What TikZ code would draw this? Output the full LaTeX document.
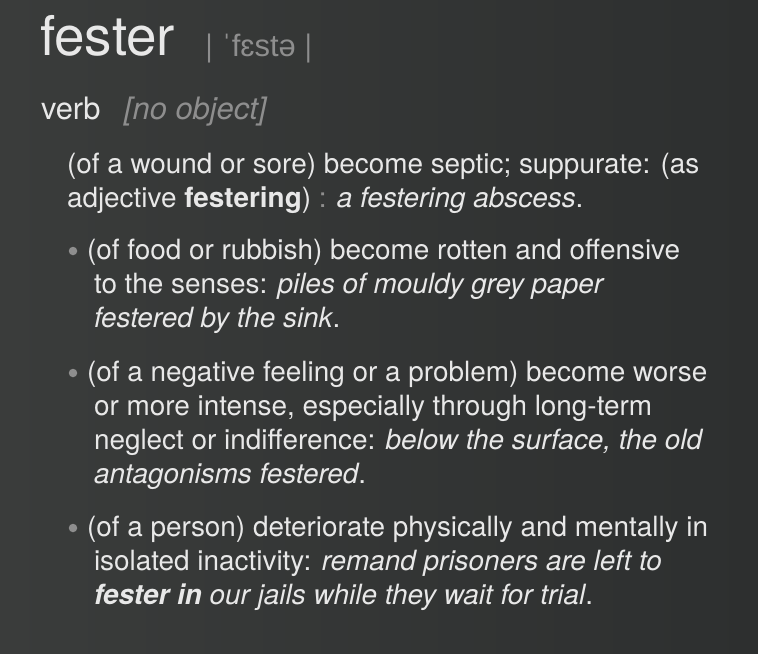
\documentclass[tikz,border=0pt]{standalone}
\usepackage{fontspec}
\setmainfont{TeX Gyre Heros}
\newfontfamily\ipafont{Liberation Sans}
\definecolor{txt}{HTML}{E8E8E8}
\definecolor{dim}{HTML}{8E8E8E}
\definecolor{bgA}{HTML}{3A3C3B}
\definecolor{bgB}{HTML}{2D2F2F}
\begin{document}
\begin{tikzpicture}[x=1bp,y=-1bp,
  ln/.style={anchor=base west,inner sep=0pt,outer sep=0pt,text=txt,font=\fontsize{28}{32}\selectfont},
  dot/.style={circle,fill=dim,inner sep=0pt,minimum size=8.5bp}]
\shade[left color=bgA,right color=bgB] (0,0) rectangle (758,654);
\useasboundingbox (0,0) rectangle (758,654);
% headword
\node[ln,font=\fontsize{55}{58}\selectfont] (hw) at (40,56) {fester};
\node[ln,text=dim,font=\fontsize{31}{34}\selectfont] (pr) at (205,57) {| {\ipafont ˈfɛstə} |};
\node[ln,font=\fontsize{31}{34}\selectfont] (pos) at (41,120) {verb};
\node[ln,text=dim,font=\fontsize{31}{34}\selectfont\itshape] (gram) at (124,120) {[no object]};
% sense 1
\node[ln] (s1a) at (67,173) {(of a wound or sore) become septic; suppurate: (as};
\node[ln] (s1b) at (67,207) {adjective \textbf{festering}) {\color{dim}:} \textit{a festering abscess}.};
% sub 1
\node[dot] (b1) at (73,251) {};
\node[ln] (s2a) at (87,259) {(of food or rubbish) become rotten and offensive};
\node[ln] (s2b) at (94,293) {to the senses: \textit{piles of mouldy grey paper}};
\node[ln] (s2c) at (94,327) {\textit{festered by the sink}.};
% sub 2
\node[dot] (b2) at (73,373) {};
\node[ln] (s3a) at (87,381) {(of a negative feeling or a problem) become worse};
\node[ln] (s3b) at (94,415) {or more intense, especially through long-term};
\node[ln] (s3c) at (94,449) {neglect or indifference: \textit{below the surface, the old}};
\node[ln] (s3d) at (94,483) {\textit{antagonisms festered}.};
% sub 3
\node[dot] (b3) at (73,528) {};
\node[ln] (s4a) at (87,536) {(of a person) deteriorate physically and mentally in};
\node[ln] (s4b) at (94,570) {isolated inactivity: \textit{remand prisoners are left to}};
\node[ln] (s4c) at (94,604) {\textbf{\textit{fester in}} \textit{our jails while they wait for trial}.};
\end{tikzpicture}
\end{document}
